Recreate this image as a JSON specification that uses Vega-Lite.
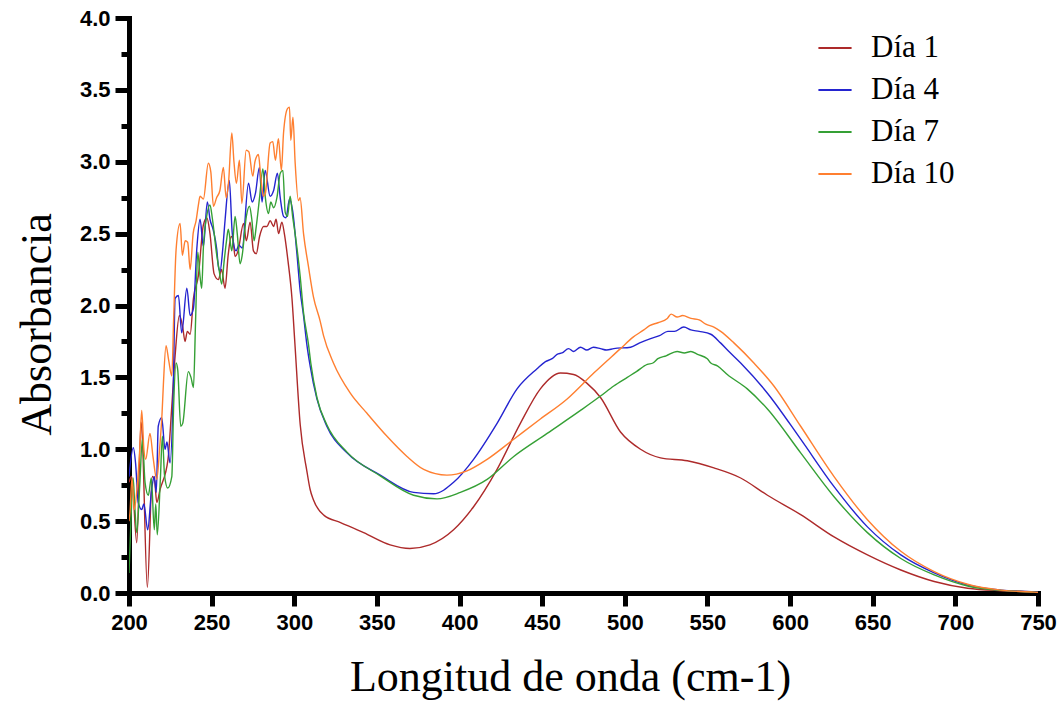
{
"$schema": "https://vega.github.io/schema/vega-lite/v6.json",
"width": 909, "height": 575,
"autosize": {"type": "none"},
"padding": {"left": 129, "top": 18, "right": 25, "bottom": 109},
"background": "white",
"config": {"view": {"stroke": null}, "axis": {"domainWidth": 5, "tickWidth": 5, "domainColor": "black", "tickColor": "black", "domainCap": "square"}},
"data": {"values": [
{"dia":"Día 1","nm":200,"abs":0.77},{"dia":"Día 1","nm":201.6,"abs":0.81},{"dia":"Día 1","nm":204.7,"abs":0.35},{"dia":"Día 1","nm":207.3,"abs":1.19},{"dia":"Día 1","nm":208,"abs":1.1},{"dia":"Día 1","nm":211.1,"abs":0.04},{"dia":"Día 1","nm":214.1,"abs":0.81},{"dia":"Día 1","nm":215.5,"abs":0.78},{"dia":"Día 1","nm":216.8,"abs":0.63},{"dia":"Día 1","nm":218.8,"abs":0.72},{"dia":"Día 1","nm":223.6,"abs":0.93},{"dia":"Día 1","nm":225.9,"abs":1.3},{"dia":"Día 1","nm":227.9,"abs":1.65},{"dia":"Día 1","nm":230.5,"abs":1.93},{"dia":"Día 1","nm":232.5,"abs":1.85},{"dia":"Día 1","nm":233.9,"abs":1.75},{"dia":"Día 1","nm":235.3,"abs":1.82},{"dia":"Día 1","nm":237,"abs":1.8},{"dia":"Día 1","nm":239,"abs":2.05},{"dia":"Día 1","nm":242,"abs":2.21},{"dia":"Día 1","nm":245,"abs":2.56},{"dia":"Día 1","nm":247.1,"abs":2.61},{"dia":"Día 1","nm":249,"abs":2.5},{"dia":"Día 1","nm":251.5,"abs":2.22},{"dia":"Día 1","nm":254.1,"abs":2.18},{"dia":"Día 1","nm":256,"abs":2.25},{"dia":"Día 1","nm":258.1,"abs":2.12},{"dia":"Día 1","nm":260,"abs":2.35},{"dia":"Día 1","nm":261.8,"abs":2.48},{"dia":"Día 1","nm":263,"abs":2.45},{"dia":"Día 1","nm":264.2,"abs":2.34},{"dia":"Día 1","nm":266,"abs":2.38},{"dia":"Día 1","nm":269.3,"abs":2.57},{"dia":"Día 1","nm":271,"abs":2.45},{"dia":"Día 1","nm":273.3,"abs":2.58},{"dia":"Día 1","nm":275.3,"abs":2.38},{"dia":"Día 1","nm":277,"abs":2.36},{"dia":"Día 1","nm":279,"abs":2.48},{"dia":"Día 1","nm":281.4,"abs":2.55},{"dia":"Día 1","nm":283.5,"abs":2.55},{"dia":"Día 1","nm":285.4,"abs":2.59},{"dia":"Día 1","nm":287.5,"abs":2.55},{"dia":"Día 1","nm":289,"abs":2.6},{"dia":"Día 1","nm":290.5,"abs":2.5},{"dia":"Día 1","nm":292.5,"abs":2.58},{"dia":"Día 1","nm":294,"abs":2.5},{"dia":"Día 1","nm":296.2,"abs":2.31},{"dia":"Día 1","nm":298.6,"abs":2.05},{"dia":"Día 1","nm":300.3,"abs":1.75},{"dia":"Día 1","nm":303.6,"abs":1.17},{"dia":"Día 1","nm":307.6,"abs":0.85},{"dia":"Día 1","nm":309.6,"abs":0.72},{"dia":"Día 1","nm":311.5,"abs":0.65},{"dia":"Día 1","nm":318,"abs":0.54},{"dia":"Día 1","nm":328,"abs":0.49},{"dia":"Día 1","nm":342,"abs":0.42},{"dia":"Día 1","nm":358,"abs":0.335},{"dia":"Día 1","nm":370,"abs":0.31},{"dia":"Día 1","nm":382,"abs":0.335},{"dia":"Día 1","nm":396.4,"abs":0.44},{"dia":"Día 1","nm":408.5,"abs":0.6},{"dia":"Día 1","nm":422.7,"abs":0.86},{"dia":"Día 1","nm":436.8,"abs":1.18},{"dia":"Día 1","nm":448.9,"abs":1.42},{"dia":"Día 1","nm":461,"abs":1.53},{"dia":"Día 1","nm":469,"abs":1.52},{"dia":"Día 1","nm":477,"abs":1.46},{"dia":"Día 1","nm":485.3,"abs":1.36},{"dia":"Día 1","nm":497.4,"abs":1.12},{"dia":"Día 1","nm":509.5,"abs":1.0},{"dia":"Día 1","nm":521.6,"abs":0.94},{"dia":"Día 1","nm":537.8,"abs":0.92},{"dia":"Día 1","nm":553.9,"abs":0.87},{"dia":"Día 1","nm":570.1,"abs":0.8},{"dia":"Día 1","nm":586.3,"abs":0.68},{"dia":"Día 1","nm":606.4,"abs":0.545},{"dia":"Día 1","nm":626.6,"abs":0.39},{"dia":"Día 1","nm":646.8,"abs":0.265},{"dia":"Día 1","nm":667,"abs":0.16},{"dia":"Día 1","nm":687.2,"abs":0.08},{"dia":"Día 1","nm":707.4,"abs":0.033},{"dia":"Día 1","nm":727.6,"abs":0.016},{"dia":"Día 1","nm":747.6,"abs":0.008},{"dia":"Día 1","nm":750,"abs":0.005},
{"dia":"Día 4","nm":200,"abs":0.81},{"dia":"Día 4","nm":202.6,"abs":1.01},{"dia":"Día 4","nm":204,"abs":0.9},{"dia":"Día 4","nm":205.6,"abs":0.63},{"dia":"Día 4","nm":207.7,"abs":0.58},{"dia":"Día 4","nm":209,"abs":0.62},{"dia":"Día 4","nm":211.3,"abs":0.44},{"dia":"Día 4","nm":213.7,"abs":0.72},{"dia":"Día 4","nm":215.3,"abs":0.81},{"dia":"Día 4","nm":216.5,"abs":0.7},{"dia":"Día 4","nm":217.7,"abs":1.16},{"dia":"Día 4","nm":219.8,"abs":1.22},{"dia":"Día 4","nm":221.8,"abs":1.0},{"dia":"Día 4","nm":223,"abs":1.05},{"dia":"Día 4","nm":224.8,"abs":0.905},{"dia":"Día 4","nm":226.8,"abs":1.42},{"dia":"Día 4","nm":227.9,"abs":2.05},{"dia":"Día 4","nm":229.9,"abs":2.07},{"dia":"Día 4","nm":231.9,"abs":1.81},{"dia":"Día 4","nm":235,"abs":2.12},{"dia":"Día 4","nm":237,"abs":1.93},{"dia":"Día 4","nm":239,"abs":1.98},{"dia":"Día 4","nm":241,"abs":2.39},{"dia":"Día 4","nm":243,"abs":2.6},{"dia":"Día 4","nm":245,"abs":2.41},{"dia":"Día 4","nm":247.4,"abs":2.72},{"dia":"Día 4","nm":249,"abs":2.6},{"dia":"Día 4","nm":251.1,"abs":2.52},{"dia":"Día 4","nm":253.1,"abs":2.39},{"dia":"Día 4","nm":254.1,"abs":2.27},{"dia":"Día 4","nm":255.1,"abs":2.24},{"dia":"Día 4","nm":256.7,"abs":2.39},{"dia":"Día 4","nm":258.1,"abs":2.59},{"dia":"Día 4","nm":260.7,"abs":2.87},{"dia":"Día 4","nm":262.5,"abs":2.5},{"dia":"Día 4","nm":264.8,"abs":2.38},{"dia":"Día 4","nm":266.5,"abs":2.42},{"dia":"Día 4","nm":268.5,"abs":2.4},{"dia":"Día 4","nm":272.3,"abs":2.85},{"dia":"Día 4","nm":274.5,"abs":2.72},{"dia":"Día 4","nm":276.5,"abs":2.78},{"dia":"Día 4","nm":278.9,"abs":2.96},{"dia":"Día 4","nm":280.5,"abs":2.72},{"dia":"Día 4","nm":282.4,"abs":2.94},{"dia":"Día 4","nm":285.4,"abs":2.76},{"dia":"Día 4","nm":287.5,"abs":2.8},{"dia":"Día 4","nm":289.8,"abs":2.92},{"dia":"Día 4","nm":291.5,"abs":2.75},{"dia":"Día 4","nm":293.5,"abs":2.62},{"dia":"Día 4","nm":295,"abs":2.61},{"dia":"Día 4","nm":297.1,"abs":2.74},{"dia":"Día 4","nm":299,"abs":2.66},{"dia":"Día 4","nm":301.6,"abs":2.36},{"dia":"Día 4","nm":303.6,"abs":2.1},{"dia":"Día 4","nm":305.6,"abs":1.93},{"dia":"Día 4","nm":307.6,"abs":1.73},{"dia":"Día 4","nm":309.6,"abs":1.58},{"dia":"Día 4","nm":313.7,"abs":1.35},{"dia":"Día 4","nm":319.7,"abs":1.16},{"dia":"Día 4","nm":331.9,"abs":0.975},{"dia":"Día 4","nm":352,"abs":0.82},{"dia":"Día 4","nm":372.2,"abs":0.7},{"dia":"Día 4","nm":384.3,"abs":0.69},{"dia":"Día 4","nm":396.4,"abs":0.77},{"dia":"Día 4","nm":408.5,"abs":0.93},{"dia":"Día 4","nm":422.7,"abs":1.18},{"dia":"Día 4","nm":434.8,"abs":1.42},{"dia":"Día 4","nm":446.9,"abs":1.56},{"dia":"Día 4","nm":452,"abs":1.61},{"dia":"Día 4","nm":456,"abs":1.63},{"dia":"Día 4","nm":459,"abs":1.66},{"dia":"Día 4","nm":462,"abs":1.67},{"dia":"Día 4","nm":466,"abs":1.7},{"dia":"Día 4","nm":469,"abs":1.68},{"dia":"Día 4","nm":473.2,"abs":1.71},{"dia":"Día 4","nm":477,"abs":1.69},{"dia":"Día 4","nm":481,"abs":1.71},{"dia":"Día 4","nm":485.3,"abs":1.7},{"dia":"Día 4","nm":489,"abs":1.69},{"dia":"Día 4","nm":493.3,"abs":1.7},{"dia":"Día 4","nm":503.5,"abs":1.71},{"dia":"Día 4","nm":509,"abs":1.74},{"dia":"Día 4","nm":515.6,"abs":1.77},{"dia":"Día 4","nm":521,"abs":1.79},{"dia":"Día 4","nm":526,"abs":1.82},{"dia":"Día 4","nm":530,"abs":1.82},{"dia":"Día 4","nm":535.7,"abs":1.85},{"dia":"Día 4","nm":540,"abs":1.83},{"dia":"Día 4","nm":545,"abs":1.82},{"dia":"Día 4","nm":552,"abs":1.8},{"dia":"Día 4","nm":557.9,"abs":1.74},{"dia":"Día 4","nm":563,"abs":1.68},{"dia":"Día 4","nm":570.1,"abs":1.6},{"dia":"Día 4","nm":586.3,"abs":1.39},{"dia":"Día 4","nm":606.4,"abs":1.07},{"dia":"Día 4","nm":626.6,"abs":0.74},{"dia":"Día 4","nm":646.8,"abs":0.46},{"dia":"Día 4","nm":667,"abs":0.265},{"dia":"Día 4","nm":687.2,"abs":0.14},{"dia":"Día 4","nm":707.4,"abs":0.056},{"dia":"Día 4","nm":727.6,"abs":0.02},{"dia":"Día 4","nm":747.6,"abs":0.007},{"dia":"Día 4","nm":750,"abs":0.005},
{"dia":"Día 7","nm":200,"abs":0.14},{"dia":"Día 7","nm":201.2,"abs":0.51},{"dia":"Día 7","nm":202.5,"abs":0.8},{"dia":"Día 7","nm":203.5,"abs":0.6},{"dia":"Día 7","nm":204.7,"abs":0.42},{"dia":"Día 7","nm":206.5,"abs":0.75},{"dia":"Día 7","nm":208.1,"abs":1.07},{"dia":"Día 7","nm":209.7,"abs":0.77},{"dia":"Día 7","nm":211.7,"abs":0.68},{"dia":"Día 7","nm":213.5,"abs":0.8},{"dia":"Día 7","nm":215.3,"abs":0.44},{"dia":"Día 7","nm":216.2,"abs":0.62},{"dia":"Día 7","nm":217.1,"abs":0.405},{"dia":"Día 7","nm":219,"abs":0.8},{"dia":"Día 7","nm":220.2,"abs":1.09},{"dia":"Día 7","nm":221.5,"abs":0.82},{"dia":"Día 7","nm":223.4,"abs":0.73},{"dia":"Día 7","nm":225.9,"abs":0.81},{"dia":"Día 7","nm":227,"abs":1.3},{"dia":"Día 7","nm":228.5,"abs":1.6},{"dia":"Día 7","nm":229.5,"abs":1.55},{"dia":"Día 7","nm":231.3,"abs":1.16},{"dia":"Día 7","nm":232.5,"abs":1.18},{"dia":"Día 7","nm":235.9,"abs":1.54},{"dia":"Día 7","nm":237.5,"abs":1.5},{"dia":"Día 7","nm":239,"abs":1.43},{"dia":"Día 7","nm":240.3,"abs":1.9},{"dia":"Día 7","nm":241.6,"abs":2.37},{"dia":"Día 7","nm":243,"abs":2.2},{"dia":"Día 7","nm":244,"abs":2.12},{"dia":"Día 7","nm":245,"abs":2.4},{"dia":"Día 7","nm":247,"abs":2.62},{"dia":"Día 7","nm":249,"abs":2.7},{"dia":"Día 7","nm":250.5,"abs":2.6},{"dia":"Día 7","nm":253.1,"abs":2.35},{"dia":"Día 7","nm":254.5,"abs":2.25},{"dia":"Día 7","nm":256.1,"abs":2.15},{"dia":"Día 7","nm":257.5,"abs":2.3},{"dia":"Día 7","nm":259,"abs":2.45},{"dia":"Día 7","nm":260.1,"abs":2.53},{"dia":"Día 7","nm":262.2,"abs":2.38},{"dia":"Día 7","nm":264.2,"abs":2.62},{"dia":"Día 7","nm":265.5,"abs":2.5},{"dia":"Día 7","nm":267.2,"abs":2.29},{"dia":"Día 7","nm":268.5,"abs":2.35},{"dia":"Día 7","nm":271,"abs":2.62},{"dia":"Día 7","nm":272.9,"abs":2.69},{"dia":"Día 7","nm":274.3,"abs":2.6},{"dia":"Día 7","nm":275.7,"abs":2.45},{"dia":"Día 7","nm":277,"abs":2.55},{"dia":"Día 7","nm":279,"abs":2.75},{"dia":"Día 7","nm":281,"abs":2.95},{"dia":"Día 7","nm":282.5,"abs":2.75},{"dia":"Día 7","nm":284.4,"abs":2.64},{"dia":"Día 7","nm":285.8,"abs":2.72},{"dia":"Día 7","nm":287.5,"abs":2.68},{"dia":"Día 7","nm":289.5,"abs":2.75},{"dia":"Día 7","nm":291.5,"abs":2.92},{"dia":"Día 7","nm":293.1,"abs":2.94},{"dia":"Día 7","nm":294.5,"abs":2.65},{"dia":"Día 7","nm":295.9,"abs":2.62},{"dia":"Día 7","nm":297.5,"abs":2.76},{"dia":"Día 7","nm":299,"abs":2.62},{"dia":"Día 7","nm":300.5,"abs":2.5},{"dia":"Día 7","nm":303.6,"abs":2.2},{"dia":"Día 7","nm":305.6,"abs":1.95},{"dia":"Día 7","nm":308.6,"abs":1.73},{"dia":"Día 7","nm":310,"abs":1.6},{"dia":"Día 7","nm":313.7,"abs":1.36},{"dia":"Día 7","nm":319.7,"abs":1.17},{"dia":"Día 7","nm":331.9,"abs":0.98},{"dia":"Día 7","nm":352,"abs":0.815},{"dia":"Día 7","nm":372.2,"abs":0.68},{"dia":"Día 7","nm":386.4,"abs":0.655},{"dia":"Día 7","nm":400.5,"abs":0.7},{"dia":"Día 7","nm":416.7,"abs":0.79},{"dia":"Día 7","nm":432.8,"abs":0.95},{"dia":"Día 7","nm":453,"abs":1.11},{"dia":"Día 7","nm":473.2,"abs":1.27},{"dia":"Día 7","nm":485.3,"abs":1.37},{"dia":"Día 7","nm":493.3,"abs":1.44},{"dia":"Día 7","nm":501.5,"abs":1.5},{"dia":"Día 7","nm":507,"abs":1.54},{"dia":"Día 7","nm":513.6,"abs":1.59},{"dia":"Día 7","nm":517,"abs":1.6},{"dia":"Día 7","nm":520,"abs":1.63},{"dia":"Día 7","nm":525,"abs":1.65},{"dia":"Día 7","nm":531.7,"abs":1.68},{"dia":"Día 7","nm":536,"abs":1.67},{"dia":"Día 7","nm":540,"abs":1.68},{"dia":"Día 7","nm":544,"abs":1.66},{"dia":"Día 7","nm":549.9,"abs":1.63},{"dia":"Día 7","nm":552,"abs":1.6},{"dia":"Día 7","nm":556,"abs":1.58},{"dia":"Día 7","nm":562,"abs":1.52},{"dia":"Día 7","nm":574.1,"abs":1.42},{"dia":"Día 7","nm":586.3,"abs":1.28},{"dia":"Día 7","nm":606.4,"abs":0.975},{"dia":"Día 7","nm":626.6,"abs":0.67},{"dia":"Día 7","nm":646.8,"abs":0.42},{"dia":"Día 7","nm":667,"abs":0.24},{"dia":"Día 7","nm":687.2,"abs":0.126},{"dia":"Día 7","nm":707.4,"abs":0.049},{"dia":"Día 7","nm":727.6,"abs":0.018},{"dia":"Día 7","nm":747.6,"abs":0.006},{"dia":"Día 7","nm":750,"abs":0.004},
{"dia":"Día 10","nm":200,"abs":0.5},{"dia":"Día 10","nm":200.6,"abs":0.56},{"dia":"Día 10","nm":201.8,"abs":0.8},{"dia":"Día 10","nm":203.2,"abs":0.58},{"dia":"Día 10","nm":205,"abs":0.75},{"dia":"Día 10","nm":206.5,"abs":1.0},{"dia":"Día 10","nm":207.7,"abs":1.27},{"dia":"Día 10","nm":209,"abs":1.0},{"dia":"Día 10","nm":210.1,"abs":0.93},{"dia":"Día 10","nm":212.7,"abs":1.11},{"dia":"Día 10","nm":214.5,"abs":0.95},{"dia":"Día 10","nm":216.8,"abs":0.79},{"dia":"Día 10","nm":218.5,"abs":1.0},{"dia":"Día 10","nm":220,"abs":1.25},{"dia":"Día 10","nm":220.8,"abs":1.45},{"dia":"Día 10","nm":222.4,"abs":1.72},{"dia":"Día 10","nm":224,"abs":1.62},{"dia":"Día 10","nm":225.9,"abs":1.51},{"dia":"Día 10","nm":227,"abs":1.9},{"dia":"Día 10","nm":228.5,"abs":2.39},{"dia":"Día 10","nm":230.9,"abs":2.57},{"dia":"Día 10","nm":232.3,"abs":2.35},{"dia":"Día 10","nm":234,"abs":2.45},{"dia":"Día 10","nm":235.5,"abs":2.44},{"dia":"Día 10","nm":237,"abs":2.25},{"dia":"Día 10","nm":238.8,"abs":2.5},{"dia":"Día 10","nm":240.6,"abs":2.59},{"dia":"Día 10","nm":242,"abs":2.7},{"dia":"Día 10","nm":243,"abs":2.76},{"dia":"Día 10","nm":245,"abs":2.74},{"dia":"Día 10","nm":248,"abs":2.99},{"dia":"Día 10","nm":249.5,"abs":2.93},{"dia":"Día 10","nm":251.1,"abs":2.69},{"dia":"Día 10","nm":253,"abs":2.75},{"dia":"Día 10","nm":255,"abs":2.8},{"dia":"Día 10","nm":257.1,"abs":2.96},{"dia":"Día 10","nm":258.8,"abs":2.75},{"dia":"Día 10","nm":260.2,"abs":2.85},{"dia":"Día 10","nm":262.2,"abs":3.2},{"dia":"Día 10","nm":263.5,"abs":3.0},{"dia":"Día 10","nm":265,"abs":2.85},{"dia":"Día 10","nm":266.8,"abs":3.01},{"dia":"Día 10","nm":268.3,"abs":2.71},{"dia":"Día 10","nm":270.9,"abs":3.08},{"dia":"Día 10","nm":272.5,"abs":3.07},{"dia":"Día 10","nm":274.9,"abs":2.9},{"dia":"Día 10","nm":276.2,"abs":3.0},{"dia":"Día 10","nm":278.3,"abs":3.05},{"dia":"Día 10","nm":279.7,"abs":2.9},{"dia":"Día 10","nm":281.3,"abs":2.76},{"dia":"Día 10","nm":282.5,"abs":2.78},{"dia":"Día 10","nm":285.4,"abs":3.13},{"dia":"Día 10","nm":287,"abs":3.14},{"dia":"Día 10","nm":288.6,"abs":3.01},{"dia":"Día 10","nm":290.4,"abs":3.16},{"dia":"Día 10","nm":292.2,"abs":2.94},{"dia":"Día 10","nm":293.5,"abs":3.2},{"dia":"Día 10","nm":295.9,"abs":3.37},{"dia":"Día 10","nm":297.1,"abs":3.38},{"dia":"Día 10","nm":297.9,"abs":3.15},{"dia":"Día 10","nm":299.2,"abs":3.31},{"dia":"Día 10","nm":300.5,"abs":3.0},{"dia":"Día 10","nm":302.5,"abs":2.73},{"dia":"Día 10","nm":303.5,"abs":2.75},{"dia":"Día 10","nm":305.6,"abs":2.5},{"dia":"Día 10","nm":308.6,"abs":2.27},{"dia":"Día 10","nm":311.6,"abs":2.06},{"dia":"Día 10","nm":315.7,"abs":1.89},{"dia":"Día 10","nm":317.7,"abs":1.79},{"dia":"Día 10","nm":323.7,"abs":1.6},{"dia":"Día 10","nm":333.9,"abs":1.39},{"dia":"Día 10","nm":344,"abs":1.25},{"dia":"Día 10","nm":356.1,"abs":1.09},{"dia":"Día 10","nm":368.2,"abs":0.95},{"dia":"Día 10","nm":378.3,"abs":0.86},{"dia":"Día 10","nm":392.4,"abs":0.82},{"dia":"Día 10","nm":404.5,"abs":0.85},{"dia":"Día 10","nm":416.7,"abs":0.93},{"dia":"Día 10","nm":432.8,"abs":1.07},{"dia":"Día 10","nm":448.9,"abs":1.21},{"dia":"Día 10","nm":465.1,"abs":1.35},{"dia":"Día 10","nm":481.2,"abs":1.53},{"dia":"Día 10","nm":497.4,"abs":1.7},{"dia":"Día 10","nm":505,"abs":1.78},{"dia":"Día 10","nm":511.5,"abs":1.83},{"dia":"Día 10","nm":515,"abs":1.86},{"dia":"Día 10","nm":520,"abs":1.88},{"dia":"Día 10","nm":525.7,"abs":1.91},{"dia":"Día 10","nm":528,"abs":1.94},{"dia":"Día 10","nm":531.7,"abs":1.92},{"dia":"Día 10","nm":535,"abs":1.93},{"dia":"Día 10","nm":540,"abs":1.91},{"dia":"Día 10","nm":545,"abs":1.9},{"dia":"Día 10","nm":549,"abs":1.87},{"dia":"Día 10","nm":553.9,"abs":1.85},{"dia":"Día 10","nm":558,"abs":1.82},{"dia":"Día 10","nm":566,"abs":1.74},{"dia":"Día 10","nm":578.1,"abs":1.6},{"dia":"Día 10","nm":590.2,"abs":1.44},{"dia":"Día 10","nm":606.4,"abs":1.16},{"dia":"Día 10","nm":626.6,"abs":0.81},{"dia":"Día 10","nm":646.8,"abs":0.51},{"dia":"Día 10","nm":667,"abs":0.29},{"dia":"Día 10","nm":687.2,"abs":0.149},{"dia":"Día 10","nm":707.4,"abs":0.061},{"dia":"Día 10","nm":727.6,"abs":0.02},{"dia":"Día 10","nm":747.6,"abs":0.006},{"dia":"Día 10","nm":750,"abs":0.004}
]},
"mark": {"type": "line", "strokeWidth": 1.4, "interpolate": "monotone", "clip": true},
"encoding": {
"x": {"field": "nm", "type": "quantitative",
"scale": {"domain": [200, 750], "nice": false, "zero": false},
"axis": {"title": "Longitud de onda (cm-1)", "values": [200,250,300,350,400,450,500,550,600,650,700,750],
"grid": false, "domainColor": "black", "domainWidth": 5, "tickColor": "black", "tickWidth": 5, "tickSize": 13,
"labelFlush": false, "labelOverlap": false,
"labelFont": "Liberation Sans", "labelFontWeight": "bold", "labelFontSize": 22, "labelColor": "black", "labelPadding": 6,
"titleFont": "Liberation Serif", "titleFontSize": 44, "titleFontWeight": "normal", "titleColor": "black", "titlePadding": 22, "titleX": 441}},
"y": {"field": "abs", "type": "quantitative",
"scale": {"domain": [0, 4], "nice": false},
"axis": {"title": "Absorbancia", "values": [0,0.25,0.5,0.75,1,1.25,1.5,1.75,2,2.25,2.5,2.75,3,3.25,3.5,3.75,4],
"labelExpr": "datum.value % 0.5 === 0 ? format(datum.value, '.1f') : ''",
"grid": false, "domainColor": "black", "domainWidth": 5, "tickColor": "black", "tickWidth": 5,
"tickSize": {"condition": {"test": "datum.value % 0.5 === 0", "value": 14}, "value": 8},
"labelFlush": false, "labelOverlap": false,
"labelFont": "Liberation Sans", "labelFontWeight": "bold", "labelFontSize": 22, "labelColor": "black", "labelPadding": 5,
"titleFont": "Liberation Serif", "titleFontSize": 44, "titleFontWeight": "normal", "titleColor": "black", "titlePadding": 20, "titleY": 306}},
"color": {"field": "dia", "type": "nominal",
"scale": {"domain": ["Día 1", "Día 4", "Día 7", "Día 10"], "range": ["#ad2a2a", "#2424d0", "#35a035", "#ff7f30"]},
"legend": {"title": null, "orient": "none", "legendX": 688, "legendY": 12,
"labelFont": "Liberation Serif", "labelFontSize": 31, "labelColor": "black", "labelOffset": 18,
"symbolType": "stroke", "symbolSize": 1100, "symbolStrokeWidth": 2, "rowPadding": 9}}
}
}
